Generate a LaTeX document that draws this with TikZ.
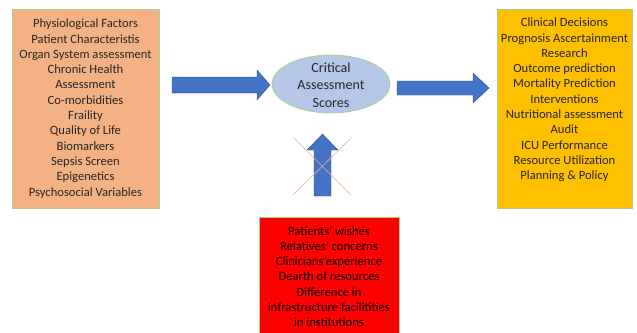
\documentclass[tikz,border=0pt]{standalone}
\usepackage{fontspec}
\setmainfont{Carlito}
\definecolor{peach}{HTML}{F4B183}
\definecolor{gold}{HTML}{FFC000}
\definecolor{lblue}{HTML}{B4C7E7}
\definecolor{abl}{HTML}{4472C4}
\definecolor{abord}{HTML}{2F528F}
\definecolor{gbord}{HTML}{A9D18E}
\definecolor{txt}{HTML}{262626}
\begin{document}
\begin{tikzpicture}[x=1pt,y=-1pt,
  box/.style={draw=gbord, line width=0.8pt, align=center, text=txt,
    font=\fontsize{12.6}{15.3}\selectfont, inner sep=0pt},
  blockarrow/.style={fill=abl, draw=abord, line width=0.4pt},
  crossline/.style={draw=peach, line width=0.6pt}]
\useasboundingbox (0,0) rectangle (637,332);
% left box
\path[box, fill=peach] (12,9) rectangle (159,208);
\node[box, draw=none] (left) at (85.5,108.5) {Physiological Factors\\Patient Characteristis\\Organ System assessment\\Chronic Health\\Assessment\\Co-morbidities\\Fraility\\Quality of Life\\Biomarkers\\Sepsis Screen\\Epigenetics\\Psychosocial Variables};
% right box
\path[box, fill=gold] (497,9) rectangle (632,208);
\node[box, draw=none] (right) at (564.5,100) {Clinical Decisions\\Prognosis Ascertainment\\Research\\Outcome prediction\\Mortality Prediction\\Interventions\\Nutritional assessment\\Audit\\ICU Performance\\Resource Utilization\\Planning \& Policy};
% ellipse
\draw[draw=gbord, fill=lblue, line width=0.8pt] (331,84) ellipse [x radius=59, y radius=29];
\node[align=center, text=txt, font=\fontsize{14}{17.5}\selectfont, inner sep=0pt] (cas) at (331,85) {Critical\\Assessment\\Scores};
% red box
\path[box, fill=red] (259,217) rectangle (399,336);
\node[box, draw=none, text=black] (red) at (329,276.5) {Patients’ wishes\\Relatives’ concerns\\Clinicians’experience\\Dearth of resources\\Difference in\\infrastructure facilitities\\in institutions};
% arrows
\path[blockarrow] (172,77) -- (257,77) -- (257,70) -- (270,85) -- (257,100) -- (257,93) -- (172,93) -- cycle;
\path[blockarrow] (397,81) -- (473,81) -- (473,73) -- (489,88) -- (473,103) -- (473,95) -- (397,95) -- cycle;
\path[blockarrow] (314,196) -- (314,150) -- (307,150) -- (322.5,134) -- (338,150) -- (331,150) -- (331,196) -- cycle;
% cross
\draw[crossline] (293,137) -- (351,195);
\draw[crossline] (352,137) -- (293,195);
\end{tikzpicture}
\end{document}
